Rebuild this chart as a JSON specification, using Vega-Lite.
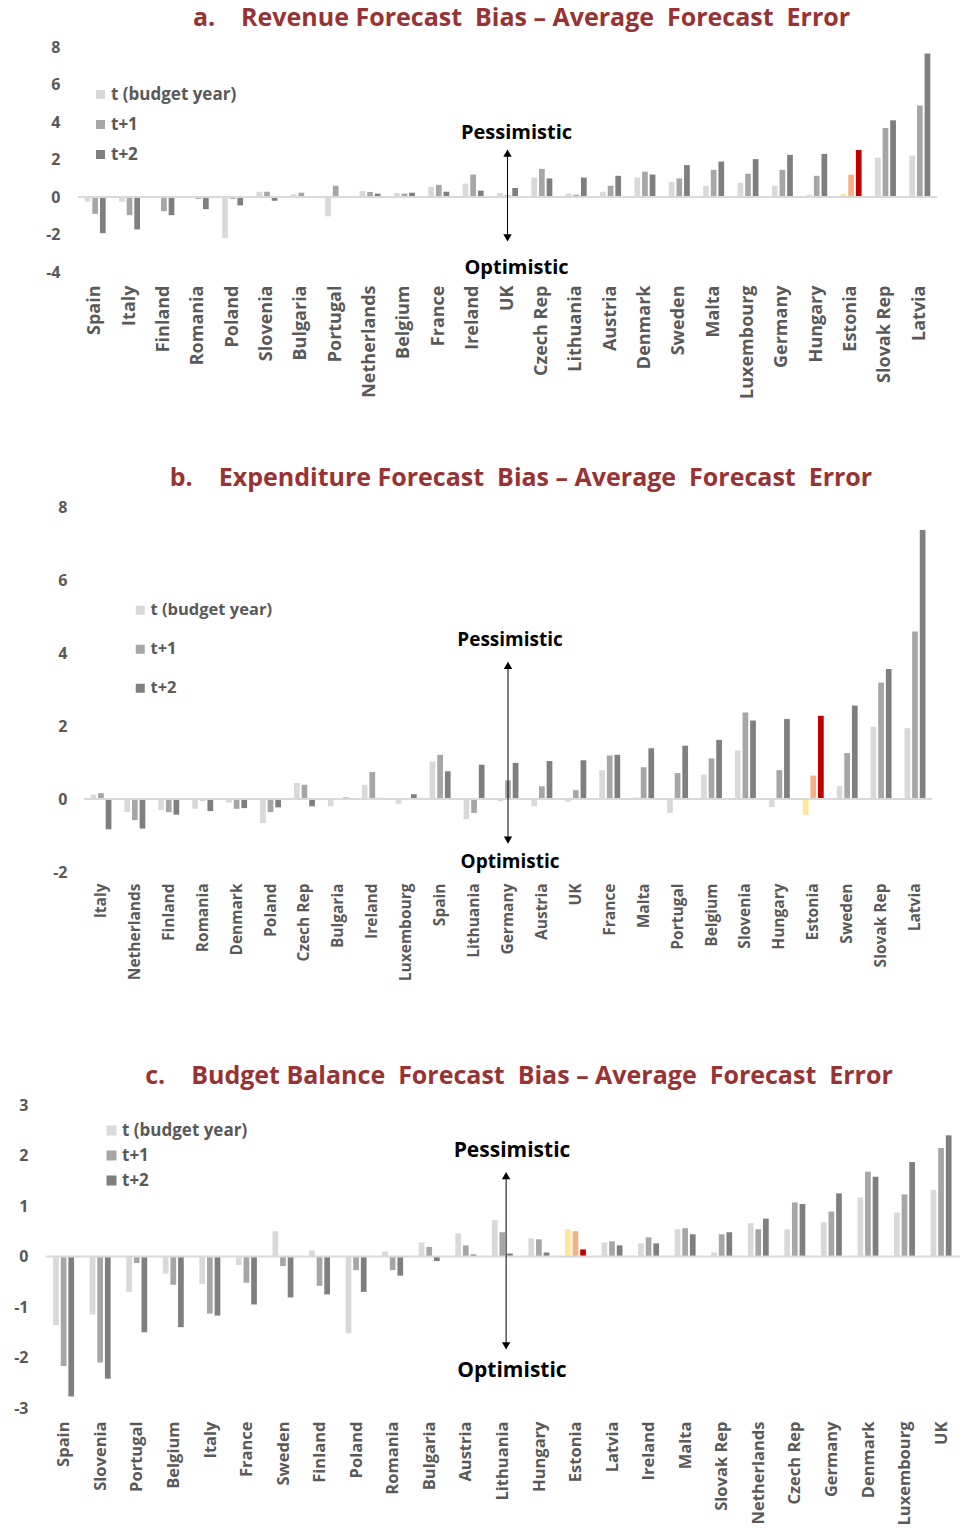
{
  "$schema": "https://vega.github.io/schema/vega-lite/v6.json",
  "padding": {"top": 6, "left": 0, "right": 0, "bottom": 0},
  "background": "white",
  "columns": 1,
  "spacing": 0,
  "config": {
    "view": {"stroke": null},
    "font": "Open Sans",
    "axisY": {"labelFont": "Open Sans", "labelFontWeight": "bold", "labelFontSize": 16, "labelColor": "#595959", "labelPadding": 18, "ticks": false, "domain": false, "grid": false, "labelOverlap": false, "labelExpr": "datum.value < 0 ? '-' + abs(datum.value) : '' + datum.value"},
    "axisX": {"labelFont": "Open Sans", "labelFontWeight": "bold", "labelColor": "#595959", "labelPadding": 13, "labelAngle": -90, "ticks": false, "domain": false, "grid": false},
    "legend": {"orient": "none", "title": null, "symbolType": "square", "symbolSize": 81, "symbolStrokeWidth": 0, "labelFont": "Open Sans", "labelFontWeight": "bold", "labelFontSize": 17, "labelColor": "#595959", "labelOffset": 2, "padding": 0},
    "title": {"font": "Open Sans", "fontWeight": "bold", "fontSize": 25, "color": "#993333", "anchor": "middle"}
  },
  "datasets": {
    "revenue": [
      {"country": "Spain", "t (budget year)": -0.25, "t+1": -0.9, "t+2": -1.93},
      {"country": "Italy", "t (budget year)": -0.25, "t+1": -0.97, "t+2": -1.73},
      {"country": "Finland", "t (budget year)": 0, "t+1": -0.76, "t+2": -0.97},
      {"country": "Romania", "t (budget year)": 0, "t+1": -0.1, "t+2": -0.65},
      {"country": "Poland", "t (budget year)": -2.18, "t+1": -0.1, "t+2": -0.45},
      {"country": "Slovenia", "t (budget year)": 0.28, "t+1": 0.28, "t+2": -0.2},
      {"country": "Bulgaria", "t (budget year)": 0.14, "t+1": 0.23, "t+2": 0},
      {"country": "Portugal", "t (budget year)": -1.03, "t+1": 0.6, "t+2": 0},
      {"country": "Netherlands", "t (budget year)": 0.32, "t+1": 0.27, "t+2": 0.18},
      {"country": "Belgium", "t (budget year)": 0.21, "t+1": 0.18, "t+2": 0.23},
      {"country": "France", "t (budget year)": 0.55, "t+1": 0.65, "t+2": 0.28},
      {"country": "Ireland", "t (budget year)": 0.71, "t+1": 1.2, "t+2": 0.34},
      {"country": "UK", "t (budget year)": 0.21, "t+1": 0.09, "t+2": 0.48},
      {"country": "Czech Rep", "t (budget year)": 1.04, "t+1": 1.5, "t+2": 0.99},
      {"country": "Lithuania", "t (budget year)": 0.18, "t+1": 0.12, "t+2": 1.04},
      {"country": "Austria", "t (budget year)": 0.28, "t+1": 0.6, "t+2": 1.13},
      {"country": "Denmark", "t (budget year)": 1.04, "t+1": 1.35, "t+2": 1.2},
      {"country": "Sweden", "t (budget year)": 0.8, "t+1": 0.99, "t+2": 1.7},
      {"country": "Malta", "t (budget year)": 0.6, "t+1": 1.45, "t+2": 1.89},
      {"country": "Luxembourg", "t (budget year)": 0.76, "t+1": 1.24, "t+2": 2.02},
      {"country": "Germany", "t (budget year)": 0.6, "t+1": 1.45, "t+2": 2.25},
      {"country": "Hungary", "t (budget year)": 0.12, "t+1": 1.13, "t+2": 2.3},
      {"country": "Estonia", "t (budget year)": 0.18, "t+1": 1.19, "t+2": 2.51},
      {"country": "Slovak Rep", "t (budget year)": 2.1, "t+1": 3.68, "t+2": 4.09},
      {"country": "Latvia", "t (budget year)": 2.21, "t+1": 4.88, "t+2": 7.66}
    ],
    "expenditure": [
      {"country": "Italy", "t (budget year)": 0.12, "t+1": 0.16, "t+2": -0.83},
      {"country": "Netherlands", "t (budget year)": -0.36, "t+1": -0.58, "t+2": -0.81},
      {"country": "Finland", "t (budget year)": -0.3, "t+1": -0.36, "t+2": -0.43},
      {"country": "Romania", "t (budget year)": -0.27, "t+1": -0.04, "t+2": -0.33},
      {"country": "Denmark", "t (budget year)": -0.1, "t+1": -0.27, "t+2": -0.25},
      {"country": "Poland", "t (budget year)": -0.66, "t+1": -0.36, "t+2": -0.23},
      {"country": "Czech Rep", "t (budget year)": 0.44, "t+1": 0.39, "t+2": -0.2},
      {"country": "Bulgaria", "t (budget year)": -0.2, "t+1": 0, "t+2": 0.04},
      {"country": "Ireland", "t (budget year)": 0.39, "t+1": 0.74, "t+2": 0.03},
      {"country": "Luxembourg", "t (budget year)": -0.13, "t+1": 0.03, "t+2": 0.13},
      {"country": "Spain", "t (budget year)": 1.03, "t+1": 1.21, "t+2": 0.76},
      {"country": "Lithuania", "t (budget year)": -0.55, "t+1": -0.38, "t+2": 0.94},
      {"country": "Germany", "t (budget year)": -0.06, "t+1": 0.51, "t+2": 0.99},
      {"country": "Austria", "t (budget year)": -0.2, "t+1": 0.35, "t+2": 1.04},
      {"country": "UK", "t (budget year)": -0.07, "t+1": 0.24, "t+2": 1.06},
      {"country": "France", "t (budget year)": 0.79, "t+1": 1.19, "t+2": 1.21},
      {"country": "Malta", "t (budget year)": 0.04, "t+1": 0.87, "t+2": 1.39},
      {"country": "Portugal", "t (budget year)": -0.38, "t+1": 0.71, "t+2": 1.46},
      {"country": "Belgium", "t (budget year)": 0.67, "t+1": 1.11, "t+2": 1.62},
      {"country": "Slovenia", "t (budget year)": 1.33, "t+1": 2.37, "t+2": 2.15},
      {"country": "Hungary", "t (budget year)": -0.22, "t+1": 0.79, "t+2": 2.19},
      {"country": "Estonia", "t (budget year)": -0.43, "t+1": 0.64, "t+2": 2.28},
      {"country": "Sweden", "t (budget year)": 0.35, "t+1": 1.26, "t+2": 2.56},
      {"country": "Slovak Rep", "t (budget year)": 1.98, "t+1": 3.19, "t+2": 3.56},
      {"country": "Latvia", "t (budget year)": 1.94, "t+1": 4.59, "t+2": 7.37}
    ],
    "balance": [
      {"country": "Spain", "t (budget year)": -1.36, "t+1": -2.17, "t+2": -2.77},
      {"country": "Slovenia", "t (budget year)": -1.15, "t+1": -2.1, "t+2": -2.42},
      {"country": "Portugal", "t (budget year)": -0.7, "t+1": -0.13, "t+2": -1.5},
      {"country": "Belgium", "t (budget year)": -0.34, "t+1": -0.56, "t+2": -1.4},
      {"country": "Italy", "t (budget year)": -0.54, "t+1": -1.13, "t+2": -1.17},
      {"country": "France", "t (budget year)": -0.17, "t+1": -0.52, "t+2": -0.95},
      {"country": "Sweden", "t (budget year)": 0.5, "t+1": -0.19, "t+2": -0.81},
      {"country": "Finland", "t (budget year)": 0.12, "t+1": -0.58, "t+2": -0.75},
      {"country": "Poland", "t (budget year)": -1.52, "t+1": -0.27, "t+2": -0.7},
      {"country": "Romania", "t (budget year)": 0.1, "t+1": -0.27, "t+2": -0.38},
      {"country": "Bulgaria", "t (budget year)": 0.28, "t+1": 0.19, "t+2": -0.09},
      {"country": "Austria", "t (budget year)": 0.46, "t+1": 0.22, "t+2": 0.04},
      {"country": "Lithuania", "t (budget year)": 0.72, "t+1": 0.48, "t+2": 0.06},
      {"country": "Hungary", "t (budget year)": 0.36, "t+1": 0.34, "t+2": 0.08},
      {"country": "Estonia", "t (budget year)": 0.54, "t+1": 0.5, "t+2": 0.14},
      {"country": "Latvia", "t (budget year)": 0.28, "t+1": 0.3, "t+2": 0.22},
      {"country": "Ireland", "t (budget year)": 0.26, "t+1": 0.38, "t+2": 0.26},
      {"country": "Malta", "t (budget year)": 0.54, "t+1": 0.56, "t+2": 0.44},
      {"country": "Slovak Rep", "t (budget year)": 0.08, "t+1": 0.44, "t+2": 0.48},
      {"country": "Netherlands", "t (budget year)": 0.66, "t+1": 0.54, "t+2": 0.75},
      {"country": "Czech Rep", "t (budget year)": 0.54, "t+1": 1.07, "t+2": 1.04},
      {"country": "Germany", "t (budget year)": 0.68, "t+1": 0.89, "t+2": 1.25},
      {"country": "Denmark", "t (budget year)": 1.17, "t+1": 1.68, "t+2": 1.58},
      {"country": "Luxembourg", "t (budget year)": 0.87, "t+1": 1.23, "t+2": 1.87},
      {"country": "UK", "t (budget year)": 1.32, "t+1": 2.15, "t+2": 2.4}
    ]
  },
  "concat": [
    {
      "width": 891,
      "height": 225,
      "title": {"text": "a.\u00a0\u00a0\u00a0\u00a0Revenue Forecast\u00a0\u00a0Bias – Average\u00a0\u00a0Forecast\u00a0\u00a0Error", "offset": 8, "dx": 30},
      "layer": [
        {
          "data": {"name": "revenue"},
          "transform": [
            {"fold": ["t (budget year)", "t+1", "t+2"], "as": ["series", "value"]},
            {"filter": "datum.country !== 'Estonia'"}
          ],
          "mark": {"type": "bar"},
          "encoding": {
            "x": {"field": "country", "type": "nominal", "title": null,
              "scale": {"domain": ["Spain","Italy","Finland","Romania","Poland","Slovenia","Bulgaria","Portugal","Netherlands","Belgium","France","Ireland","UK","Czech Rep","Lithuania","Austria","Denmark","Sweden","Malta","Luxembourg","Germany","Hungary","Estonia","Slovak Rep","Latvia"], "range": [32, 891], "paddingInner": 0.39, "paddingOuter": 0.195},
              "axis": {"labelFontSize": 18, "minExtent": 194, "maxExtent": 194}},
            "xOffset": {"field": "series", "type": "nominal", "scale": {"domain": ["t (budget year)", "t+1", "t+2"], "paddingInner": 0.25, "paddingOuter": 0}},
            "y": {"field": "value", "type": "quantitative", "title": null,
              "scale": {"domain": [-4, 8], "nice": false, "zero": false},
              "axis": {"values": [-4, -2, 0, 2, 4, 6, 8], "tickCount": 12, "offset": -32, "labelOverlap": false}},
            "color": {"field": "series", "type": "nominal",
              "scale": {"domain": ["t (budget year)", "t+1", "t+2"], "range": ["#d9d9d9", "#a6a6a6", "#7f7f7f"]},
              "legend": {"legendX": 46, "legendY": 39, "rowPadding": 12}}
          }
        },
        {
          "data": {"name": "revenue"},
          "transform": [
            {"fold": ["t (budget year)", "t+1", "t+2"], "as": ["series", "value"]},
            {"filter": "datum.country === 'Estonia'"}
          ],
          "mark": {"type": "bar"},
          "encoding": {
            "x": {"field": "country", "type": "nominal"},
            "xOffset": {"field": "series", "type": "nominal"},
            "y": {"field": "value", "type": "quantitative"},
            "color": {"field": "series", "type": "nominal",
              "scale": {"domain": ["t (budget year)", "t+1", "t+2"], "range": ["#ffe699", "#f4b183", "#c00000"]},
              "legend": null}
          }
        },
        {
          "data": {"values": [{"from": "Spain", "to": "Latvia", "y": 0}]},
          "mark": {"type": "rule", "color": "#d9d9d9", "strokeWidth": 2},
          "encoding": {"x": {"field": "from", "type": "nominal", "bandPosition": -0.32}, "x2": {"field": "to", "bandPosition": 1.32}, "y": {"field": "y", "type": "quantitative"}}
        },
        {
          "data": {"values": [{"country": "UK", "top": 2.34, "bottom": -2.18}]},
          "mark": {"type": "rule", "color": "black", "strokeWidth": 1},
          "encoding": {"x": {"field": "country", "type": "nominal"}, "y": {"field": "top", "type": "quantitative"}, "y2": {"field": "bottom"}}
        },
        {
          "data": {"values": [{"country": "UK", "y": 2.34, "dir": "up"}, {"country": "UK", "y": -2.18, "dir": "down"}]},
          "mark": {"type": "point", "filled": true, "color": "black", "opacity": 1, "size": 70},
          "encoding": {"x": {"field": "country", "type": "nominal"}, "y": {"field": "y", "type": "quantitative"},
            "shape": {"field": "dir", "type": "nominal", "scale": {"domain": ["up", "down"], "range": ["triangle-up", "triangle-down"]}, "legend": null}}
        },
        {
          "data": {"values": [{"country": "UK", "y": 3.41, "label": "Pessimistic"}, {"country": "UK", "y": -3.79, "label": "Optimistic"}]},
          "mark": {"type": "text", "fontWeight": "bold", "fontSize": 20, "color": "black", "dx": 9, "baseline": "middle"},
          "encoding": {"x": {"field": "country", "type": "nominal"}, "y": {"field": "y", "type": "quantitative"}, "text": {"field": "label"}}
        }
      ],
      "resolve": {"scale": {"color": "independent"}}
    },
    {
      "width": 886,
      "height": 365,
      "title": {"text": "b.\u00a0\u00a0\u00a0\u00a0Expenditure Forecast\u00a0\u00a0Bias – Average\u00a0\u00a0Forecast\u00a0\u00a0Error", "offset": 8, "dx": 32},
      "layer": [
        {
          "data": {"name": "expenditure"},
          "transform": [
            {"fold": ["t (budget year)", "t+1", "t+2"], "as": ["series", "value"]},
            {"filter": "datum.country !== 'Estonia'"}
          ],
          "mark": {"type": "bar"},
          "encoding": {
            "x": {"field": "country", "type": "nominal", "title": null,
              "scale": {"domain": ["Italy","Netherlands","Finland","Romania","Denmark","Poland","Czech Rep","Bulgaria","Ireland","Luxembourg","Spain","Lithuania","Germany","Austria","UK","France","Malta","Portugal","Belgium","Slovenia","Hungary","Estonia","Sweden","Slovak Rep","Latvia"], "range": [38, 886], "paddingInner": 0.38, "paddingOuter": 0.19},
              "axis": {"labelFontSize": 15.5, "labelPadding": 11, "minExtent": 192, "maxExtent": 192}},
            "xOffset": {"field": "series", "type": "nominal", "scale": {"domain": ["t (budget year)", "t+1", "t+2"], "paddingInner": 0.25, "paddingOuter": 0}},
            "y": {"field": "value", "type": "quantitative", "title": null,
              "scale": {"domain": [-2, 8], "nice": false, "zero": false},
              "axis": {"values": [-2, 0, 2, 4, 6, 8], "tickCount": 12, "labelPadding": 17, "offset": -38, "labelOverlap": false}},
            "color": {"field": "series", "type": "nominal",
              "scale": {"domain": ["t (budget year)", "t+1", "t+2"], "range": ["#d9d9d9", "#a6a6a6", "#7f7f7f"]},
              "legend": {"legendX": 86, "legendY": 95, "labelFontSize": 16.5, "rowPadding": 22}}
          }
        },
        {
          "data": {"name": "expenditure"},
          "transform": [
            {"fold": ["t (budget year)", "t+1", "t+2"], "as": ["series", "value"]},
            {"filter": "datum.country === 'Estonia'"}
          ],
          "mark": {"type": "bar"},
          "encoding": {
            "x": {"field": "country", "type": "nominal"},
            "xOffset": {"field": "series", "type": "nominal"},
            "y": {"field": "value", "type": "quantitative"},
            "color": {"field": "series", "type": "nominal",
              "scale": {"domain": ["t (budget year)", "t+1", "t+2"], "range": ["#ffe699", "#f4b183", "#c00000"]},
              "legend": null}
          }
        },
        {
          "data": {"values": [{"from": "Italy", "to": "Latvia", "y": 0}]},
          "mark": {"type": "rule", "color": "#d9d9d9", "strokeWidth": 2},
          "encoding": {"x": {"field": "from", "type": "nominal", "bandPosition": -0.31}, "x2": {"field": "to", "bandPosition": 1.31}, "y": {"field": "y", "type": "quantitative"}}
        },
        {
          "data": {"values": [{"country": "Germany", "top": 3.66, "bottom": -1.13}]},
          "mark": {"type": "rule", "color": "black", "strokeWidth": 1},
          "encoding": {"x": {"field": "country", "type": "nominal"}, "y": {"field": "top", "type": "quantitative"}, "y2": {"field": "bottom"}}
        },
        {
          "data": {"values": [{"country": "Germany", "y": 3.66, "dir": "up"}, {"country": "Germany", "y": -1.13, "dir": "down"}]},
          "mark": {"type": "point", "filled": true, "color": "black", "opacity": 1, "size": 70},
          "encoding": {"x": {"field": "country", "type": "nominal"}, "y": {"field": "y", "type": "quantitative"},
            "shape": {"field": "dir", "type": "nominal", "scale": {"domain": ["up", "down"], "range": ["triangle-up", "triangle-down"]}, "legend": null}}
        },
        {
          "data": {"values": [{"country": "Germany", "y": 4.35, "label": "Pessimistic"}, {"country": "Germany", "y": -1.73, "label": "Optimistic"}]},
          "mark": {"type": "text", "fontWeight": "bold", "fontSize": 19, "color": "black", "dx": 2, "baseline": "middle"},
          "encoding": {"x": {"field": "country", "type": "nominal"}, "y": {"field": "y", "type": "quantitative"}, "text": {"field": "label"}}
        }
      ],
      "resolve": {"scale": {"color": "independent"}}
    },
    {
      "width": 914,
      "height": 303,
      "title": {"text": "c.\u00a0\u00a0\u00a0\u00a0Budget Balance\u00a0\u00a0Forecast\u00a0\u00a0Bias – Average\u00a0\u00a0Forecast\u00a0\u00a0Error", "offset": 8, "dx": 16},
      "layer": [
        {
          "data": {"name": "balance"},
          "transform": [
            {"fold": ["t (budget year)", "t+1", "t+2"], "as": ["series", "value"]},
            {"filter": "datum.country !== 'Estonia'"}
          ],
          "mark": {"type": "bar"},
          "encoding": {
            "x": {"field": "country", "type": "nominal", "title": null,
              "scale": {"domain": ["Spain","Slovenia","Portugal","Belgium","Italy","France","Sweden","Finland","Poland","Romania","Bulgaria","Austria","Lithuania","Hungary","Estonia","Latvia","Ireland","Malta","Slovak Rep","Netherlands","Czech Rep","Germany","Denmark","Luxembourg","UK"], "paddingInner": 0.39, "paddingOuter": 0.195},
              "axis": {"labelFontSize": 16.5, "minExtent": 121, "maxExtent": 121}},
            "xOffset": {"field": "series", "type": "nominal", "scale": {"domain": ["t (budget year)", "t+1", "t+2"], "paddingInner": 0.27, "paddingOuter": 0}},
            "y": {"field": "value", "type": "quantitative", "title": null,
              "scale": {"domain": [-3, 3], "nice": false, "zero": false},
              "axis": {"values": [-3, -2, -1, 0, 1, 2, 3], "tickCount": 12, "minExtent": 46, "maxExtent": 46, "labelOverlap": false}},
            "color": {"field": "series", "type": "nominal",
              "scale": {"domain": ["t (budget year)", "t+1", "t+2"], "range": ["#d9d9d9", "#a6a6a6", "#7f7f7f"]},
              "legend": {"legendX": 57, "legendY": 17, "rowPadding": 7, "symbolSize": 100}}
          }
        },
        {
          "data": {"name": "balance"},
          "transform": [
            {"fold": ["t (budget year)", "t+1", "t+2"], "as": ["series", "value"]},
            {"filter": "datum.country === 'Estonia'"}
          ],
          "mark": {"type": "bar"},
          "encoding": {
            "x": {"field": "country", "type": "nominal"},
            "xOffset": {"field": "series", "type": "nominal"},
            "y": {"field": "value", "type": "quantitative"},
            "color": {"field": "series", "type": "nominal",
              "scale": {"domain": ["t (budget year)", "t+1", "t+2"], "range": ["#ffe699", "#f4b183", "#c00000"]},
              "legend": null}
          }
        },
        {
          "data": {"values": [{"y": 0}]},
          "mark": {"type": "rule", "color": "#d9d9d9", "strokeWidth": 2},
          "encoding": {"y": {"field": "y", "type": "quantitative"}}
        },
        {
          "data": {"values": [{"country": "Lithuania", "top": 1.6, "bottom": -1.77}]},
          "mark": {"type": "rule", "color": "black", "strokeWidth": 1},
          "encoding": {"x": {"field": "country", "type": "nominal", "bandPosition": 0.64}, "y": {"field": "top", "type": "quantitative"}, "y2": {"field": "bottom"}}
        },
        {
          "data": {"values": [{"country": "Lithuania", "y": 1.6, "dir": "up"}, {"country": "Lithuania", "y": -1.77, "dir": "down"}]},
          "mark": {"type": "point", "filled": true, "color": "black", "opacity": 1, "size": 70},
          "encoding": {"x": {"field": "country", "type": "nominal", "bandPosition": 0.64}, "y": {"field": "y", "type": "quantitative"},
            "shape": {"field": "dir", "type": "nominal", "scale": {"domain": ["up", "down"], "range": ["triangle-up", "triangle-down"]}, "legend": null}}
        },
        {
          "data": {"values": [{"country": "Lithuania", "y": 2.09, "label": "Pessimistic"}, {"country": "Lithuania", "y": -2.26, "label": "Optimistic"}]},
          "mark": {"type": "text", "fontWeight": "bold", "fontSize": 21, "color": "black", "dx": 9, "baseline": "middle"},
          "encoding": {"x": {"field": "country", "type": "nominal"}, "y": {"field": "y", "type": "quantitative"}, "text": {"field": "label"}}
        }
      ],
      "resolve": {"scale": {"color": "independent"}}
    }
  ]
}
